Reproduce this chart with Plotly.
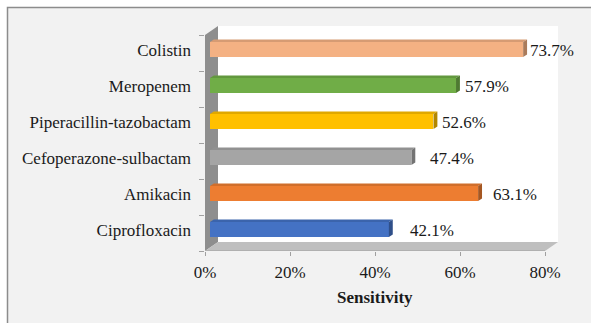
import plotly.graph_objects as go

# ---- data ----
drugs = ["Ciprofloxacin", "Amikacin", "Cefoperazone-sulbactam",
         "Piperacillin-tazobactam", "Meropenem", "Colistin"]
sensitivity = [42.1, 63.1, 47.4, 52.6, 57.9, 73.7]
x_ticks = [0, 20, 40, 60, 80]
x_tick_labels = ["0%", "20%", "40%", "60%", "80%"]

# ---- styles ----
bar_colors = ["#4472c4", "#ed7d31", "#a5a5a5", "#ffc000", "#70ad47", "#f4b183"]
label_gap_px = [19, 13, 17, 7, 7, 5]
FONT = "Liberation Serif"
FS = 17
TEXT = "#1a1a1a"

# ---- geometry (pixels) ----
W, H = 591, 323
ML, MR, MT, MB = 205, 33, 26, 72
PX_X = 4.25            # pixels per percent
PX_Y = 36.0            # pixels per category
X_MAX = (W - ML - MR) / PX_X
Y_MIN = -0.5
Y_MAX = Y_MIN + (H - MT - MB) / PX_Y

# pseudo-3D depth of the back plane, in data units
DX = 13 / PX_X
DY = 9 / PX_Y
D0, D1 = 0.38, 0.68    # bar depth span (fraction of full depth)
BAR_H = 15 / PX_Y


def shade(hex_color, k):
    r, g, b = (int(hex_color[i:i + 2], 16) for i in (1, 3, 5))
    return "#{:02x}{:02x}{:02x}".format(int(r * k), int(g * k), int(b * k))


def poly(pts):
    return "M " + " L ".join(f"{x},{y}" for x, y in pts) + " Z"


base = D0 * DX
centers = [i + D0 * DY for i in range(len(drugs))]

fig = go.Figure()
fig.add_trace(go.Bar(
    x=sensitivity, y=centers, base=base, orientation="h", width=BAR_H,
    marker=dict(color=bar_colors, line=dict(width=0)),
    hoverinfo="skip", showlegend=False,
))

shapes = []
# outer frame of the chart
shapes.append(dict(
    type="rect", xref="paper", yref="paper", layer="below",
    x0=(7.5 - ML) / (W - ML - MR), x1=1.3,
    y0=-0.6, y1=(H - MB - 7.5) / (H - MT - MB),
    fillcolor="#f2f2f2", line=dict(color="#8c8c8c", width=1.5),
))
# back wall
shapes.append(dict(type="path", xref="x", yref="y", layer="below",
                   path=poly([(DX, Y_MIN + DY), (X_MAX, Y_MIN + DY),
                              (X_MAX, Y_MAX), (DX, Y_MAX)]),
                   fillcolor="white", line=dict(width=0)))
# side wall
shapes.append(dict(type="path", xref="x", yref="y", layer="below",
                   path=poly([(0, Y_MIN), (DX, Y_MIN + DY),
                              (DX, Y_MAX), (0, Y_MAX - DY)]),
                   fillcolor="#8e8e8e", line=dict(width=0)))
# floor
shapes.append(dict(type="path", xref="x", yref="y", layer="below",
                   path=poly([(0, Y_MIN), (x_ticks[-1], Y_MIN),
                              (x_ticks[-1] + DX, Y_MIN + DY), (DX, Y_MIN + DY)]),
                   fillcolor="#bfbfbf", line=dict(width=0)))
# axis line along the front edge of the floor
shapes.append(dict(type="line", xref="x", yref="y", layer="below",
                   x0=0, x1=x_ticks[-1], y0=Y_MIN, y1=Y_MIN,
                   line=dict(color="#a0a0a0", width=1)))

# top and end faces of each bar
ddx, ddy = (D1 - D0) * DX, (D1 - D0) * DY
for v, yc, col in zip(sensitivity, centers, bar_colors):
    xe = base + v
    yt, yb = yc + BAR_H / 2, yc - BAR_H / 2
    shapes.append(dict(type="path", xref="x", yref="y", layer="above",
                       path=poly([(base, yt), (xe, yt), (xe + ddx, yt + ddy),
                                  (base + ddx, yt + ddy)]),
                       fillcolor=shade(col, 0.88), line=dict(width=0)))
    shapes.append(dict(type="path", xref="x", yref="y", layer="above",
                       path=poly([(xe, yb), (xe + ddx, yb + ddy),
                                  (xe + ddx, yt + ddy), (xe, yt)]),
                       fillcolor=shade(col, 0.7), line=dict(width=0)))

annotations = []
for v, yc, gap in zip(sensitivity, centers, label_gap_px):
    annotations.append(dict(
        x=base + v, y=yc, xref="x", yref="y", text=f"{v}%",
        showarrow=False, xanchor="left", yanchor="middle",
        xshift=gap, yshift=-1,
        font=dict(family=FONT, size=FS, color=TEXT),
    ))
annotations.append(dict(
    x=x_ticks[2], y=(H - MB - 297) / (H - MT - MB), xref="x", yref="paper",
    text="<b>Sensitivity</b>", showarrow=False,
    xanchor="center", yanchor="middle",
    font=dict(family=FONT, size=FS, color=TEXT),
))

fig.update_layout(
    width=W, height=H,
    margin=dict(l=ML, r=MR, t=MT, b=MB, pad=0),
    paper_bgcolor="white", plot_bgcolor="rgba(0,0,0,0)",
    shapes=shapes, annotations=annotations,
    bargap=0,
    xaxis=dict(
        range=[0, X_MAX], tickvals=x_ticks, ticktext=x_tick_labels,
        ticks="outside", ticklen=4, tickcolor="#a0a0a0", tickwidth=1,
        showgrid=False, zeroline=False, showline=False,
        ticklabelstandoff=2,
        tickfont=dict(family=FONT, size=FS, color=TEXT),
        fixedrange=True,
    ),
    yaxis=dict(
        range=[Y_MIN, Y_MAX], tickvals=centers, ticktext=drugs,
        ticks="", showgrid=False, zeroline=False, showline=False,
        minor=dict(tickvals=[Y_MIN + k for k in range(len(drugs) + 1)],
                   ticks="outside", ticklen=5, tickcolor="#a0a0a0",
                   tickwidth=1, showgrid=False),
        ticklabelstandoff=13,
        tickfont=dict(family=FONT, size=FS, color=TEXT),
        fixedrange=True,
    ),
)

fig.write_html("out.html", config={"displayModeBar": False})
